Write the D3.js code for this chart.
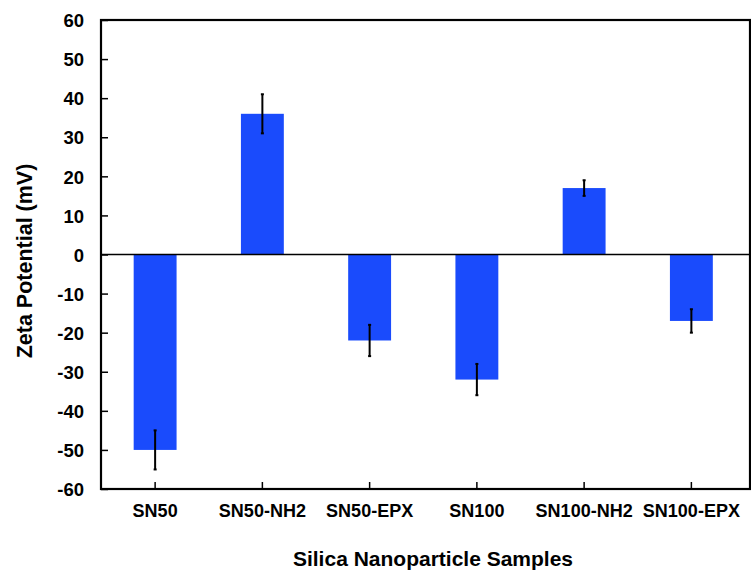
<!DOCTYPE html>
<html>
<head>
<meta charset="utf-8">
<script src="https://cdn.jsdelivr.net/npm/d3@7"></script>
<style>
  body { margin: 0; background: #fff; }
  svg text { font-family: "Liberation Sans", Arial, sans-serif; font-weight: bold; fill: #000; }
</style>
</head>
<body>
<svg id="chart" width="751" height="572"></svg>
<script>
const samples = ["SN50", "SN50-NH2", "SN50-EPX", "SN100", "SN100-NH2", "SN100-EPX"];
const zeta = [-50, 36, -22, -32, 17, -17];
const zetaErr = [5, 5, 4, 4, 2, 3];
const yTicks = [60, 50, 40, 30, 20, 10, 0, -10, -20, -30, -40, -50, -60];

const svg = d3.select("#chart");
const plotL = 101, plotR = 750, plotT = 20, plotB = 489;

const x = d3.scaleBand()
  .domain(samples)
  .range([101.5, 745])
  .paddingInner(0.6)
  .paddingOuter(0.3);

const y = d3.scaleLinear().domain([-60, 60]).range([plotB, plotT]);

// bars
svg.append("g")
  .selectAll("rect")
  .data(samples)
  .enter()
  .append("rect")
  .attr("x", (d) => x(d))
  .attr("width", x.bandwidth())
  .attr("y", (d, i) => y(Math.max(0, zeta[i])))
  .attr("height", (d, i) => Math.abs(y(zeta[i]) - y(0)))
  .style("fill", "#1a4bfc");

// error bars
const err = svg.append("g")
  .selectAll("g")
  .data(samples)
  .enter()
  .append("g")
  .attr("transform", (d) => `translate(${x(d) + x.bandwidth() / 2},0)`);
err.append("line")
  .attr("y1", (d, i) => y(zeta[i] + zetaErr[i]))
  .attr("y2", (d, i) => y(zeta[i] - zetaErr[i]))
  .style("stroke", "#000")
  .style("stroke-width", 2);
[1, -1].forEach((s) => {
  err.append("line")
    .attr("x1", -1.5)
    .attr("x2", 1.5)
    .attr("y1", (d, i) => y(zeta[i] + s * zetaErr[i]))
    .attr("y2", (d, i) => y(zeta[i] + s * zetaErr[i]))
    .style("stroke", "#000")
    .style("stroke-width", 2);
});

// zero line
svg.append("line")
  .attr("x1", plotL)
  .attr("x2", plotR)
  .attr("y1", y(0))
  .attr("y2", y(0))
  .style("stroke", "#000")
  .style("stroke-width", 1.6);

// y axis ticks + labels
const yAxis = d3.axisLeft(y)
  .tickValues(yTicks)
  .tickFormat((d) => String(d))
  .tickSize(-7)
  .tickPadding(17);
const gy = svg.append("g").attr("transform", `translate(${plotL},0)`).call(yAxis);
gy.select(".domain").remove();
gy.selectAll(".tick line").style("stroke-width", 1.5);
gy.selectAll(".tick text")
  .style("font-size", "18.5px")
  .attr("dy", "0.36em");

// x axis ticks + labels
const xAxis = d3.axisBottom(x).tickSize(-7).tickPadding(15);
const gx = svg.append("g").attr("transform", `translate(0,${plotB})`).call(xAxis);
gx.select(".domain").remove();
gx.selectAll(".tick line").style("stroke-width", 1.5);
gx.selectAll(".tick text").style("font-size", "18px");

// frame
svg.append("rect")
  .attr("x", plotL)
  .attr("y", plotT)
  .attr("width", plotR - plotL)
  .attr("height", plotB - plotT)
  .style("fill", "none")
  .style("stroke", "#000")
  .style("stroke-width", 2.2);

// axis titles
svg.append("text")
  .attr("x", 433)
  .attr("y", 566)
  .attr("text-anchor", "middle")
  .style("font-size", "21px")
  .text("Silica Nanoparticle Samples");

svg.append("text")
  .attr("transform", "translate(32,261) rotate(-90)")
  .attr("text-anchor", "middle")
  .style("font-size", "21.5px")
  .text("Zeta Potential (mV)");
</script>
</body>
</html>
